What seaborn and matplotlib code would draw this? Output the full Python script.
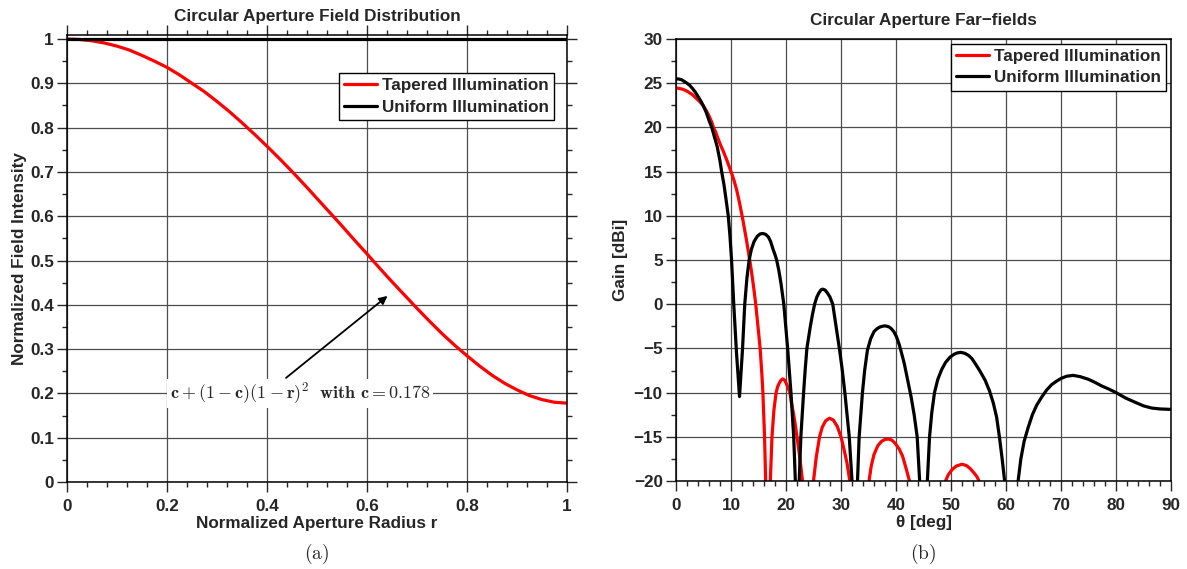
import numpy as np
import matplotlib
matplotlib.use("Agg")
import matplotlib.pyplot as plt
from matplotlib.ticker import MultipleLocator
import seaborn as sns

# Aperture field distribution (left panel)
radius = [0.0, 0.025, 0.05, 0.075, 0.1, 0.125, 0.15, 0.175, 0.2, 0.225, 0.25, 0.275, 0.3,
          0.325, 0.35, 0.375, 0.4, 0.425, 0.45, 0.475, 0.5, 0.525, 0.55, 0.575, 0.6, 0.625,
          0.65, 0.675, 0.7, 0.725, 0.75, 0.775, 0.8, 0.825, 0.85, 0.875, 0.9, 0.925, 0.95,
          0.975, 1.0]
field_tapered = [1.000, 0.999, 0.996, 0.991, 0.984, 0.975, 0.963, 0.950, 0.936, 0.919, 0.900,
                 0.881, 0.859, 0.836, 0.811, 0.785, 0.758, 0.730, 0.701, 0.671, 0.640, 0.609,
                 0.578, 0.546, 0.515, 0.483, 0.452, 0.422, 0.392, 0.363, 0.335, 0.309, 0.285,
                 0.262, 0.241, 0.223, 0.208, 0.195, 0.186, 0.180, 0.178]
radius_uniform = [0.0, 1.0]
field_uniform = [1.0, 1.0]

# Far-field gain (right panel); values below -20 dBi are nulls off the axis
theta_uniform = [0, 0.5, 1, 1.5, 2, 2.5, 3, 3.5, 4, 4.5, 5, 5.5, 6, 6.5, 7, 7.5, 8, 8.3, 8.7,
                 9, 9.5, 9.8, 10.1, 10.5, 11, 11.55, 11.8, 12.1, 12.5, 12.9, 13.3, 13.7, 14.2,
                 14.8, 15.3, 15.8, 16.3, 16.8, 17.2, 17.6, 18.0, 18.3, 18.7, 19.1, 19.6, 20.0,
                 20.3, 20.6, 20.9, 21.2, 21.4, 21.7, 22.05,
                 22.4, 22.7, 23.2, 23.5, 23.8, 24.4, 24.8, 25.2, 25.6, 26.0, 26.4, 26.7, 27.1,
                 27.5, 28.0, 28.5, 29.1, 29.7, 30.2, 30.7, 31.1, 31.5, 32.0, 32.6,
                 33.0, 33.3, 33.9, 34.3, 34.8, 35.4, 36.0, 36.5, 37.0, 37.5, 37.9, 38.4, 38.8,
                 39.2, 39.6, 40.1, 40.6, 41.0, 41.5, 42.1, 42.75, 43.3, 43.85, 44.3, 45.0,
                 45.7, 46.1, 46.5, 47.0, 47.6, 48.3, 49.0, 49.8, 50.6, 51.2, 51.8, 52.5, 53.2,
                 53.8, 54.5, 55.3, 56.2, 57.0, 57.7, 58.3, 58.8, 59.3, 59.75, 61.0,
                 62.2, 62.7, 63.3, 64.0, 64.8, 65.6, 66.5, 67.4, 68.3, 69.2, 70, 71, 72.2, 73.5,
                 75, 76.2, 77.4, 78.7, 80, 81.7, 83.5, 85, 86.5, 88, 90]
gain_uniform = [25.5, 25.47, 25.4, 25.2, 25.0, 24.75, 24.4, 24.0, 23.5, 23.0, 22.4, 21.7, 20.8,
                20.0, 18.9, 17.8, 16.2, 15.0, 13.6, 12.3, 10.0, 7.8, 5.0, 0.0, -5.5, -10.45,
                -8.0, -5.0, 0.0, 3.0, 5.0, 6.2, 7.1, 7.7, 7.95, 8.0, 7.9, 7.6, 7.1, 6.3, 5.6,
                5.0, 3.8, 2.3, 0.0, -2.8, -5.0, -7.5, -10.0, -13.0, -15.0, -20.0, -40.0,
                -20.0, -15.0, -10.0, -7.3, -5.0, -2.6, -1.2, 0.0, 0.8, 1.3, 1.65, 1.7, 1.6,
                1.3, 0.8, 0.0, -2.5, -5.0, -7.3, -10.0, -12.5, -15.0, -20.0, -40.0,
                -20.0, -15.0, -10.0, -7.5, -5.2, -3.9, -3.1, -2.8, -2.6, -2.5, -2.45, -2.5,
                -2.6, -2.8, -3.1, -3.7, -4.6, -5.5, -6.7, -8.5, -10.5, -12.5, -15.0, -20.0,
                -40.0,
                -20.0, -15.0, -12.3, -10.0, -8.5, -7.4, -6.6, -6.0, -5.65, -5.5, -5.45, -5.55,
                -5.8, -6.15, -6.8, -7.6, -8.6, -9.8, -11.2, -12.8, -15.0, -17.5, -20.0, -40.0,
                -20.0, -17.5, -15.5, -14.0, -12.5, -11.4, -10.5, -9.7, -9.1, -8.7, -8.4, -8.15,
                -8.05, -8.2, -8.5, -8.85, -9.25, -9.6, -10.0, -10.6, -11.1, -11.5, -11.75,
                -11.85, -11.9]

theta_tapered = [0, 0.5, 1, 1.5, 2, 2.5, 3, 3.5, 4, 4.5, 5, 5.5, 6, 6.5, 6.8, 7.2, 7.6, 8.1,
                 8.6, 9.3, 10, 10.5, 11, 11.4, 11.7, 12.2, 12.8, 13.3, 13.7, 14.1, 14.5, 14.9,
                 15.3, 15.6, 15.8, 16.1, 16.3, 16.7,
                 17.15, 17.45, 17.8, 18.2, 18.5, 18.8, 19.1, 19.4, 19.7, 20.0, 20.35, 20.7,
                 21.0, 21.4, 21.7, 22.0, 22.5, 23.0, 24.0,
                 25.0, 25.5, 26.1, 26.6, 27.2, 27.9, 28.6, 29.3, 30.0, 30.5, 31.1, 31.6, 33.5,
                 35.1, 35.5, 36.0, 36.7, 37.4, 38.0, 38.6, 39.2, 39.8, 40.6, 41.2, 41.8, 42.45,
                 45.5,
                 49.0, 49.5, 50.2, 51.0, 52.0, 52.8, 53.5, 54.2, 54.7, 55.1, 58,
                 62, 66, 70, 75, 80, 85, 90]
gain_tapered = [24.45, 24.42, 24.35, 24.25, 24.1, 23.9, 23.7, 23.4, 23.1, 22.8, 22.4, 21.9,
                21.3, 20.6, 20.0, 19.5, 18.8, 18.0, 17.3, 16.2, 15.0, 14.1, 13.0, 11.9, 11.0,
                9.4, 7.3, 5.4, 3.8, 2.0, 0.0, -2.5, -5.0, -7.8, -10.0, -15.0, -20.0, -40.0,
                -20.0, -15.0, -12.0, -10.0, -9.3, -8.9, -8.6, -8.45, -8.55, -8.9, -9.4, -10.0,
                -11.2, -12.5, -13.7, -15.0, -17.3, -20.0, -40.0,
                -20.0, -17.3, -15.0, -13.9, -13.2, -12.9, -13.1, -13.8, -15.0, -16.3, -18.0,
                -20.0, -40.0,
                -20.0, -18.3, -17.0, -16.0, -15.5, -15.3, -15.25, -15.35, -15.7, -16.4, -17.2,
                -18.5, -20.0, -40.0,
                -20.0, -19.3, -18.7, -18.3, -18.1, -18.25, -18.6, -19.1, -19.5, -20.0, -40.0,
                -25.0, -40.0, -27.0, -40.0, -29.0, -35.0, -31.0]

sns.set_theme(style="ticks")
plt.rcParams['font.family'] = ['Liberation Sans', 'DejaVu Sans']
plt.rcParams['font.weight'] = 'bold'
plt.rcParams['axes.labelweight'] = 'bold'
plt.rcParams['axes.titleweight'] = 'bold'
plt.rcParams['mathtext.fontset'] = 'cm'
plt.rcParams['axes.edgecolor'] = 'black'
plt.rcParams['axes.linewidth'] = 1.1

W, H = 1187, 569
fig = plt.figure(figsize=(W / 100, H / 100), dpi=100)
ax1 = fig.add_axes([67 / W, (H - 482) / H, 500 / W, 447.4 / H])
ax2 = fig.add_axes([676 / W, (H - 481) / H, 495 / W, 442 / H])

fs = 12.3
grid_kw = dict(color='0.3', lw=0.9)
leg_kw = dict(loc='upper right', borderaxespad=0, fontsize=fs, frameon=True, fancybox=False,
              handlelength=1.9, handletextpad=0.3, borderpad=0.3, labelspacing=0.38)

# --- (a) field distribution
sns.lineplot(x=radius, y=field_tapered, ax=ax1, color='#ff0000', lw=2.3,
             label='Tapered Illumination')
sns.lineplot(x=radius_uniform, y=field_uniform, ax=ax1, color='black', lw=2.3,
             label='Uniform Illumination')
ax1.set_xlim(0, 1)
ax1.set_ylim(0, 1.01)
ax1.xaxis.set_minor_locator(MultipleLocator(0.04))
ax1.yaxis.set_minor_locator(MultipleLocator(0.05))
ax1.set_xticks([0, 0.2, 0.4, 0.6, 0.8, 1.0])
ax1.set_xticklabels(['0', '0.2', '0.4', '0.6', '0.8', '1'])
ax1.set_yticks(np.arange(0, 1.01, 0.1))
ax1.set_yticklabels(['0', '0.1', '0.2', '0.3', '0.4', '0.5', '0.6', '0.7', '0.8', '0.9', '1'])
ax1.tick_params(which='both', direction='out', top=True, right=True, labelsize=fs, width=1.0)
ax1.tick_params(which='major', length=7)
ax1.tick_params(axis='x', which='major', pad=5)
ax1.tick_params(axis='y', which='major', pad=2.5)
ax1.tick_params(which='minor', length=3.5)
ax1.grid(True, which='major', **grid_kw)
ax1.set_axisbelow(True)
ax1.set_title('Circular Aperture Field Distribution', fontsize=fs, pad=10)
ax1.set_xlabel('Normalized Aperture Radius r', fontsize=fs, labelpad=2)
ax1.set_ylabel('Normalized Field Intensity', fontsize=fs, labelpad=2)
ax1.annotate('', xy=(0.641, 0.42), xytext=(0.438, 0.235),
             arrowprops=dict(arrowstyle='-|>', color='black', lw=1.3, mutation_scale=12,
                             shrinkA=0, shrinkB=0))
ax1.text(0.466, 0.2, r'$\mathbf{c+(1-c)(1-r)^2\ \ with\ c=0.178}$', fontsize=13,
         ha='center', va='center',
         bbox=dict(facecolor='white', edgecolor='none', pad=1.5))
leg1 = ax1.legend(bbox_to_anchor=(0.974, 0.914), **leg_kw)
leg1.get_frame().set_edgecolor('black')
leg1.get_frame().set_linewidth(1.0)
leg1.get_frame().set_alpha(1)

# --- (b) far-fields
sns.lineplot(x=theta_tapered, y=gain_tapered, ax=ax2, color='#ff0000', lw=2.3,
             label='Tapered Illumination')
sns.lineplot(x=theta_uniform, y=gain_uniform, ax=ax2, color='black', lw=2.3,
             label='Uniform Illumination')
ax2.set_xlim(0, 90)
ax2.set_ylim(-20, 30)
ax2.xaxis.set_major_locator(MultipleLocator(10))
ax2.xaxis.set_minor_locator(MultipleLocator(2))
ax2.yaxis.set_major_locator(MultipleLocator(5))
ax2.yaxis.set_minor_locator(MultipleLocator(2.5))
ax2.tick_params(which='both', direction='out', labelsize=fs, width=1.0)
ax2.tick_params(which='major', length=7)
ax2.tick_params(axis='x', which='major', pad=5)
ax2.tick_params(axis='y', which='major', pad=2.5)
ax2.tick_params(which='minor', length=3.5)
ax2.grid(True, which='major', **grid_kw)
ax2.set_axisbelow(True)
ax2.set_title('Circular Aperture Far\u2212fields', fontsize=fs, pad=10)
ax2.set_xlabel('\u03b8 [deg]', fontsize=fs, labelpad=2)
ax2.set_ylabel('Gain [dBi]', fontsize=fs, labelpad=4)
leg2 = ax2.legend(bbox_to_anchor=(0.99, 0.989), **leg_kw)
leg2.get_frame().set_edgecolor('black')
leg2.get_frame().set_linewidth(1.0)
leg2.get_frame().set_alpha(1)

fig.text(317 / W, 1 - 554 / H, r'$\mathrm{(a)}$', fontsize=14, ha='center', va='center')
fig.text(923 / W, 1 - 554 / H, r'$\mathrm{(b)}$', fontsize=14, ha='center', va='center')

fig.savefig('out.png', dpi=100)
